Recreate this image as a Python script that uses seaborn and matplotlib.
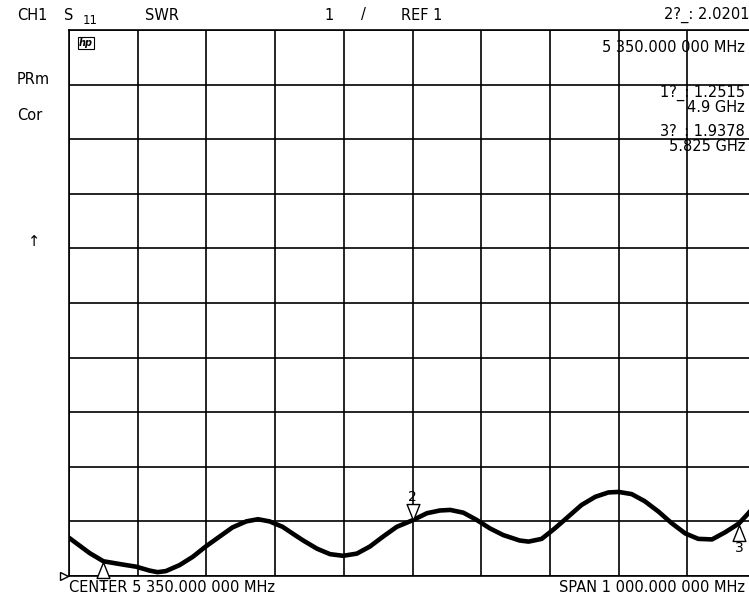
"""HP network analyzer S11 SWR sweep screen."""
import matplotlib
matplotlib.use("Agg")
import matplotlib.pyplot as plt
from matplotlib.path import Path
import numpy as np
import seaborn as sns

# trace: frequency (GHz) vs SWR
freq_ghz = [4.850, 4.865, 4.880, 4.900, 4.928, 4.948, 4.967, 4.979, 4.991,
            5.011, 5.030, 5.049, 5.069, 5.088, 5.108, 5.125, 5.142, 5.161, 5.180,
            5.191, 5.211, 5.230, 5.249, 5.269, 5.288, 5.307, 5.327, 5.350, 5.371,
            5.390, 5.405, 5.424, 5.443, 5.463, 5.482, 5.506, 5.519, 5.538, 5.557,
            5.577, 5.596, 5.616, 5.635, 5.650, 5.669, 5.688, 5.708, 5.727, 5.747,
            5.766, 5.786, 5.805, 5.825, 5.839, 5.850]
swr = [1.70, 1.56, 1.42, 1.27, 1.21, 1.17, 1.10, 1.07, 1.09,
       1.20, 1.35, 1.54, 1.72, 1.89, 2.00, 2.04, 2.00, 1.90, 1.74,
       1.65, 1.50, 1.40, 1.37, 1.41, 1.54, 1.72, 1.90, 2.02, 2.15,
       2.20, 2.21, 2.16, 2.03, 1.87, 1.75, 1.65, 1.63, 1.68, 1.87,
       2.09, 2.30, 2.45, 2.53, 2.54, 2.50, 2.37, 2.18, 1.97, 1.78,
       1.68, 1.67, 1.80, 1.96, 2.15, 2.32]

# markers
marker_freq = [4.9, 5.35, 5.825]
marker_swr = [1.2515, 2.0201, 1.9378]
marker_labels = ["1", "2", "3"]
marker_down = [False, True, False]

W, H = 749, 598

sns.set_style("white")
plt.rcParams["font.family"] = ["DejaVu Sans"]
plt.rcParams["text.color"] = "black"

fig = plt.figure(figsize=(W / 100, H / 100), dpi=100)
fig.patch.set_facecolor("white")
# screen is cut off on the right, so the axes run past the figure edge
ax = fig.add_axes([69 / W, 22 / H, 687 / W, 546 / H])
ax.set_xlim(4.85, 5.85)
ax.set_ylim(1, 11)
ax.set_xticks(np.linspace(4.85, 5.85, 11))
ax.set_yticks(np.arange(1, 12, 1))
ax.tick_params(length=0, labelbottom=False, labelleft=False)
ax.grid(True, color="black", linewidth=1.2)
for sp in ax.spines.values():
    sp.set_color("black")
    sp.set_linewidth(1.2)

sns.lineplot(x=freq_ghz, y=swr, ax=ax, color="black", linewidth=3.3,
             solid_capstyle="round", solid_joinstyle="round")

up_tri = Path([(0, 0), (-0.4, -1), (0.4, -1), (0, 0)],
              [Path.MOVETO, Path.LINETO, Path.LINETO, Path.CLOSEPOLY])
down_tri = Path([(0, 0), (-0.4, 1), (0.4, 1), (0, 0)],
                [Path.MOVETO, Path.LINETO, Path.LINETO, Path.CLOSEPOLY])
for f, s, lab, down in zip(marker_freq, marker_swr, marker_labels, marker_down):
    ax.plot([f], [s], marker=down_tri if down else up_tri, markersize=23,
            markerfacecolor="white", markeredgecolor="black",
            markeredgewidth=1.0, clip_on=False, zorder=5)
    ax.annotate(lab, (f, s), xytext=(0, 17 if down else -17),
                textcoords="offset points", ha="center", va="center",
                fontsize=10, annotation_clip=False)

# reference level pointer
ax.plot([-0.008], [1], marker=">", markersize=6, markerfacecolor="white",
        markeredgecolor="black", markeredgewidth=1.0,
        transform=ax.get_yaxis_transform(), clip_on=False)


def px(x, y):
    return x / W, 1 - y / H


fs = 10.5
fig.text(*px(17, 15), "CH1", fontsize=fs, va="center")
fig.text(*px(64, 15), "S", fontsize=fs, va="center")
fig.text(*px(83, 21), "11", fontsize=fs - 2, va="center")
fig.text(*px(145, 15), "SWR", fontsize=fs, va="center")
fig.text(*px(324, 15), "1", fontsize=fs, va="center")
fig.text(*px(361, 15), "/", fontsize=fs, va="center")
fig.text(*px(401, 15), "REF 1", fontsize=fs, va="center")
fig.text(*px(749, 15), "2?_: 2.0201", fontsize=fs, va="center", ha="right")
fig.text(*px(745, 47), "5 350.000 000 MHz", fontsize=fs, va="center", ha="right")
fig.text(*px(745, 100), "1?_: 1.2515\n4.9 GHz", fontsize=fs, va="center",
         ha="right", multialignment="right", linespacing=0.95)
fig.text(*px(745, 139), "3?_: 1.9378\n5.825 GHz", fontsize=fs, va="center",
         ha="right", multialignment="right", linespacing=0.95)
fig.text(*px(17, 80), "PRm", fontsize=fs, va="center")
fig.text(*px(17, 116), "Cor", fontsize=fs, va="center")
fig.text(*px(34, 242), "↑", fontsize=fs, va="center", ha="center")
fig.text(*px(79, 43), "hp", fontsize=7, style="italic", weight="bold",
         va="center", ha="left",
         bbox=dict(boxstyle="square,pad=0.1", fc="white", ec="black", lw=0.8))
fig.text(*px(69, 587), "CENTER 5 350.000 000 MHz", fontsize=fs, va="center")
fig.text(*px(745, 587), "SPAN 1 000.000 000 MHz", fontsize=fs, va="center", ha="right")

fig.savefig("out.png", dpi=100)
plt.close(fig)
